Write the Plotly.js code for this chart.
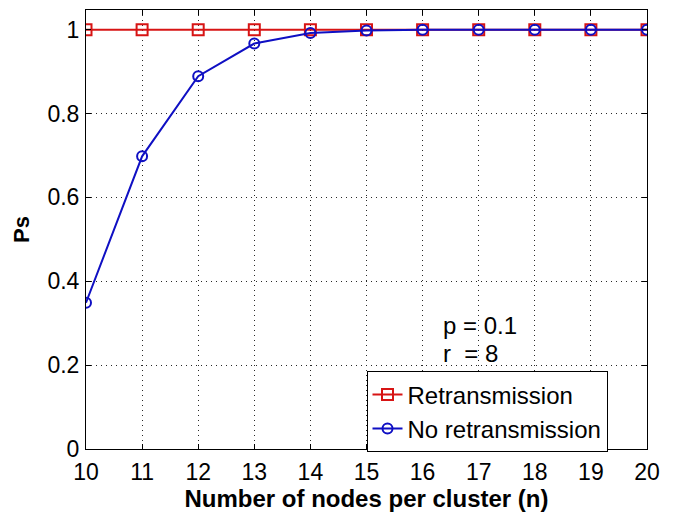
<!DOCTYPE html>
<html><head><meta charset="utf-8">
<script src="https://cdn.plot.ly/plotly-3.0.1.min.js"></script>
<style>html,body{margin:0;padding:0;background:#fff}#chart{width:681px;height:515px}</style>
</head><body><div id="chart"></div>
<script>
const nodes = [10, 11, 12, 13, 14, 15, 16, 17, 18, 19, 20];
const retransmission = [1, 1, 1, 1, 1, 1, 1, 1, 1, 1, 1];
const noRetransmission = [0.349, 0.698, 0.889, 0.967, 0.992, 0.998, 1, 1, 1, 1, 1];
const xTicks = [10, 11, 12, 13, 14, 15, 16, 17, 18, 19, 20];
const yTicks = [0, 0.2, 0.4, 0.6, 0.8, 1];
const yTickText = ['0', '0.2', '0.4', '0.6', '0.8', '1'];

const font = 'Liberation Sans, Arial, sans-serif';
const traces = [
  {x: nodes, y: retransmission, name: 'Retransmission', mode: 'lines+markers',
   line: {color: 'rgb(215,20,20)', width: 2},
   marker: {symbol: 'square-open', size: 11, color: 'rgb(215,20,20)', line: {width: 2}}},
  {x: nodes, y: noRetransmission, name: 'No retransmission', mode: 'lines+markers',
   line: {color: 'rgb(15,15,195)', width: 2},
   marker: {symbol: 'circle-open', size: 10, color: 'rgb(15,15,195)', line: {width: 2}}}
];
const axisCommon = {
  showline: true, linecolor: 'black', linewidth: 1, mirror: 'ticks',
  ticks: 'inside', ticklen: 5, tickcolor: 'black',
  showgrid: true, gridcolor: 'rgb(40,40,40)', gridwidth: 1, griddash: '1px,4px',
  zeroline: false, tickfont: {family: font, size: 23, color: 'black'}
};
const layout = {
  width: 681, height: 515,
  margin: {l: 86, r: 34, t: 10, b: 66},
  paper_bgcolor: 'white', plot_bgcolor: 'white',
  showlegend: true,
  legend: {x: 0.5, y: 0.177, xanchor: 'left', yanchor: 'top',
    bgcolor: 'white', bordercolor: 'black', borderwidth: 1,
    font: {family: font, size: 24, color: 'black'}, tracegroupgap: 0, itemwidth: 30},
  xaxis: Object.assign({}, axisCommon, {
    range: [10, 20], tickvals: xTicks, ticktext: xTicks.map(String), ticklabelstandoff: 2,
    title: {text: '<b>Number of nodes per cluster (n)</b>', font: {family: font, size: 24, color: 'black'}, standoff: 1}
  }),
  yaxis: Object.assign({}, axisCommon, {
    range: [0, 1.047], tickvals: yTicks, ticktext: yTickText, ticklabelstandoff: 1,
    title: {text: '<b>Ps</b>', font: {family: font, size: 22, color: 'black'}, standoff: 11}
  }),
  annotations: [
    {xref: 'paper', yref: 'paper', x: 0.633, y: 0.282, xanchor: 'left', yanchor: 'middle',
     text: 'p = 0.1', showarrow: false, font: {family: font, size: 24, color: 'black'}},
    {xref: 'paper', yref: 'paper', x: 0.633, y: 0.218, xanchor: 'left', yanchor: 'middle',
     text: 'r \u00a0= 8', showarrow: false, font: {family: font, size: 24, color: 'black'}}
  ]
};
Plotly.newPlot('chart', traces, layout, {displayModeBar: false, staticPlot: true});
</script></body></html>
